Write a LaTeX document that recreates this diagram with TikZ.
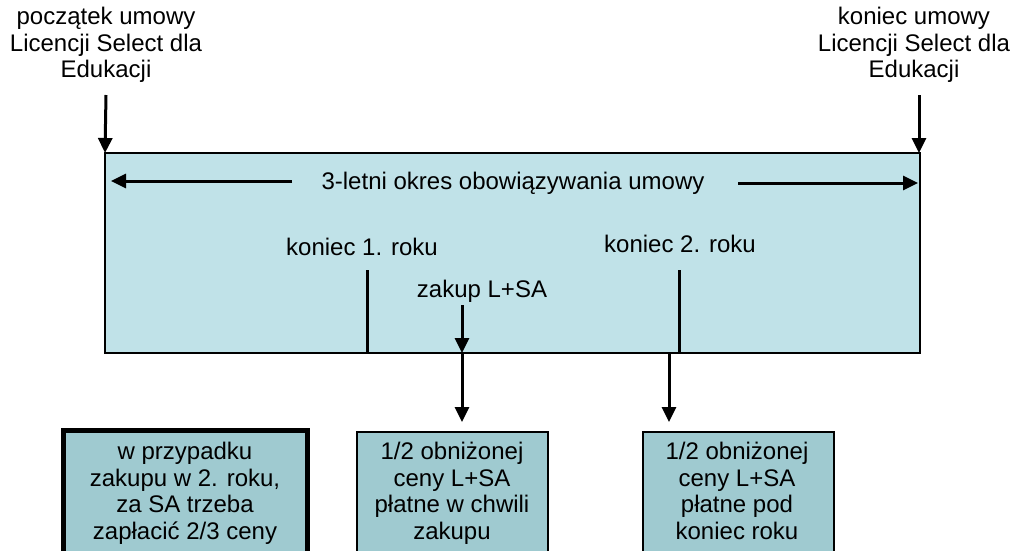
\documentclass[tikz,border=0pt]{standalone}
\usepackage{fontspec}
\setmainfont{Liberation Sans}
\usetikzlibrary{arrows.meta}
\definecolor{mainfill}{HTML}{C0E2E8}
\definecolor{boxfill}{HTML}{9FCAD0}
\tikzset{
  lbl/.style={font=\fontsize{24}{26.5}\selectfont, align=center, inner sep=0pt},
  arr/.style={line width=3pt, -{Triangle[length=15pt,width=14pt]}},
  tick/.style={line width=3pt},
}
\begin{document}
\begin{tikzpicture}[x=1pt,y=-1pt]
\clip (0,0) rectangle (1016,550);
\fill[white] (0,0) rectangle (1016,550);
% main box
\draw[fill=mainfill, line width=2.5pt] (105,153) rectangle (920,353);
\coordinate (mtl) at (105,153);
\coordinate (mtr) at (919,153);
% top labels
\node[lbl] (start) at (106,45) {początek umowy\\Licencji Select dla\\Edukacji};
\node[lbl] (end) at (914,45) {koniec umowy\\Licencji Select dla\\Edukacji};
\coordinate (s0) at (106,95);
\coordinate (e0) at (919,95);
\draw[arr] (s0) -- (mtl);
\draw[arr] (e0) -- (mtr);
% period
\node[lbl] (period) at (513,183) {3-letni okres obowiązywania umowy};
\coordinate (pl0) at (292,181);
\coordinate (pl1) at (111,181);
\coordinate (pr0) at (738,183);
\coordinate (pr1) at (918,183);
\draw[arr] (pl0) -- (pl1);
\draw[arr] (pr0) -- (pr1);
% year marks
\node[lbl] (y1) at (362,247) {koniec 1. roku};
\node[lbl] (y2) at (680,244) {koniec 2. roku};
\coordinate (t1a) at (367,270);
\coordinate (t1b) at (367,353);
\coordinate (t2a) at (679,270);
\coordinate (t2b) at (679,353);
\draw[tick] (t1a) -- (t1b);
\draw[tick] (t2a) -- (t2b);
% purchase
\node[lbl] (buy) at (482,291) {zakup L+SA};
\coordinate (b0) at (462,305);
\coordinate (b1) at (462,353);
\draw[arr] (b0) -- (b1);
% lower boxes
\draw[fill=boxfill, line width=5pt] (63,430) rectangle (307,600);
\draw[fill=boxfill, line width=1.5pt] (357,432) rectangle (548,600);
\draw[fill=boxfill, line width=1.5pt] (643,432) rectangle (834,600);
\node[lbl, anchor=north] (n1) at (185,442) {w przypadku\\zakupu w 2. roku,\\za SA trzeba\\zapłacić 2/3 ceny};
\node[lbl, anchor=north] (n2) at (452,442) {1/2 obniżonej\\ceny L+SA\\płatne w chwili\\zakupu};
\node[lbl, anchor=north] (n3) at (737,442) {1/2 obniżonej\\ceny L+SA\\płatne pod\\koniec roku};
\coordinate (d1) at (462,422);
\coordinate (c2a) at (669,353);
\coordinate (d2) at (669,422);
\draw[arr] (b1) -- (d1);
\draw[arr] (c2a) -- (d2);
\end{tikzpicture}
\end{document}
